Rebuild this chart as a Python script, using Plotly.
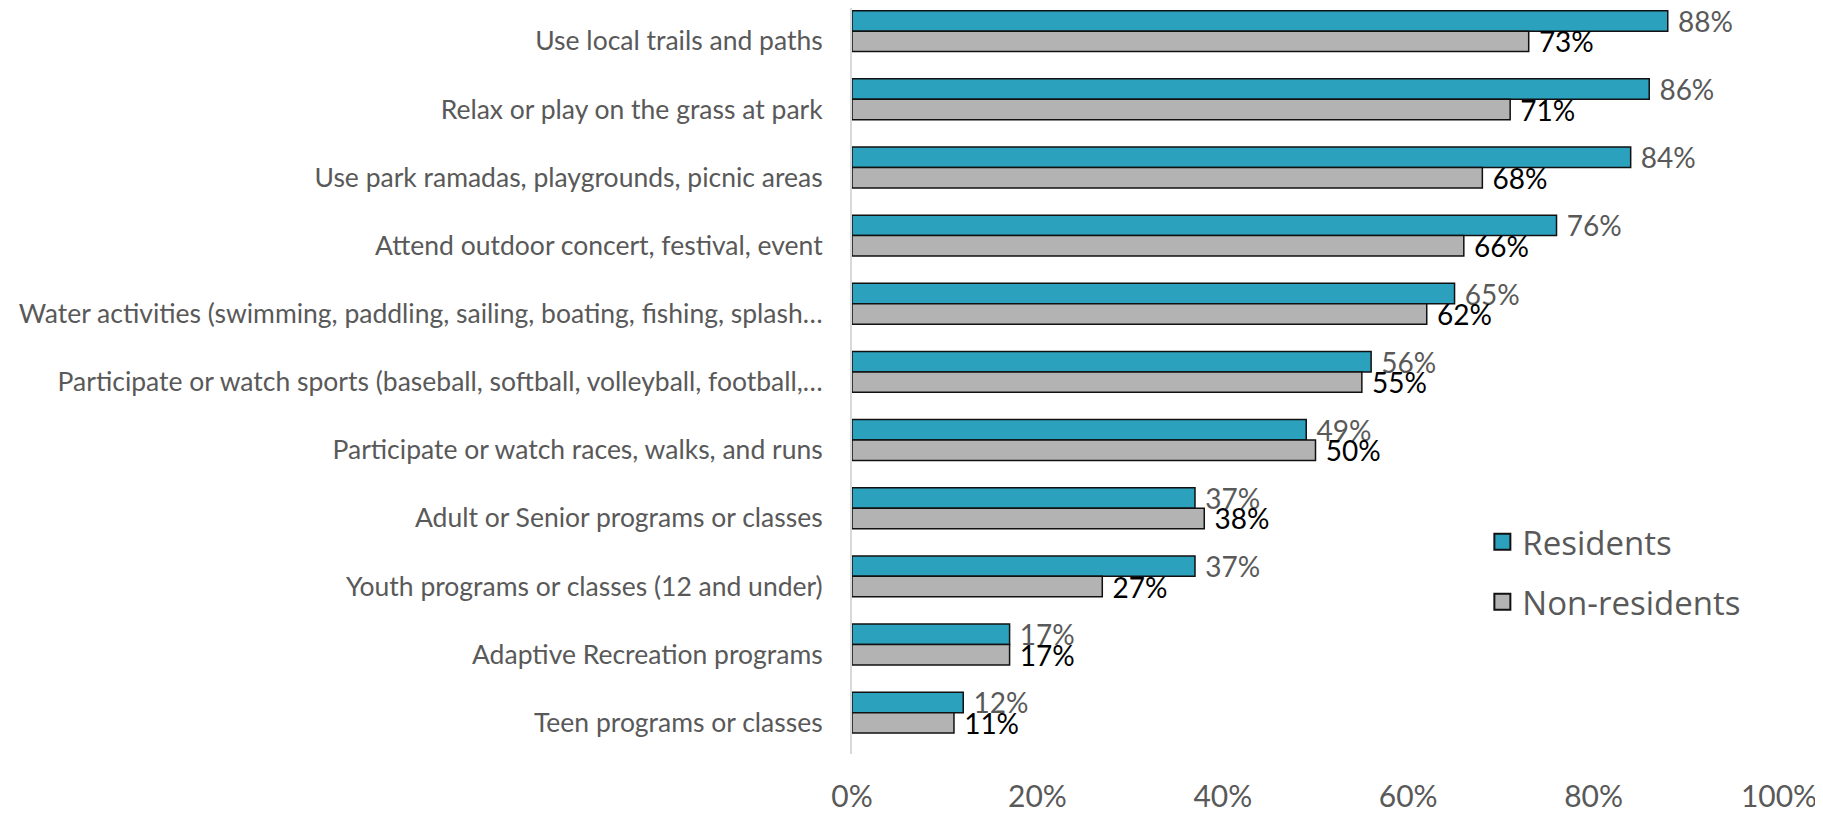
import plotly.graph_objects as go

activities = [
    "Use local trails and paths",
    "Relax or play on the grass at park",
    "Use park ramadas, playgrounds, picnic areas",
    "Attend outdoor concert, festival, event",
    "Water activities (swimming, paddling, sailing, boating, fishing, splash\u2026",
    "Participate or watch sports (baseball, softball, volleyball, football,\u2026",
    "Participate or watch races, walks, and runs",
    "Adult or Senior programs or classes",
    "Youth programs or classes (12 and under)",
    "Adaptive Recreation programs",
    "Teen programs or classes",
]
residents = [0.88, 0.86, 0.84, 0.76, 0.65, 0.56, 0.49, 0.37, 0.37, 0.17, 0.12]
non_residents = [0.73, 0.71, 0.68, 0.66, 0.62, 0.55, 0.50, 0.38, 0.27, 0.17, 0.11]
x_ticks = [0, 0.2, 0.4, 0.6, 0.8, 1.0]

FONT = "Lato"
TEAL = "#2ca1be"
GREY = "#b3b3b3"
PAD = "\u00a0"

fig = go.Figure()
fig.add_trace(go.Bar(
    name="Residents", y=activities, x=residents, orientation="h",
    marker=dict(color=TEAL, line=dict(color="#111111", width=1.5)),
    text=[PAD + f"{v:.0%}" for v in residents], textposition="outside",
    textfont=dict(color="#595959", size=28, family=FONT),
    constraintext="none", cliponaxis=False, showlegend=False,
))
fig.add_trace(go.Bar(
    name="Non-residents", y=activities, x=non_residents, orientation="h",
    marker=dict(color=GREY, line=dict(color="#111111", width=1.5)),
    text=[PAD + f"{v:.0%}" for v in non_residents], textposition="outside",
    textfont=dict(color="#000000", size=28, family=FONT),
    constraintext="none", cliponaxis=False, showlegend=False,
))

# legend entries with square swatches
for i, (name, color) in enumerate([("Residents", TEAL), ("Non-residents", GREY)]):
    fig.add_trace(go.Scatter(
        x=[None], y=[None], mode="markers", name=name, legendgroup=str(i),
        marker=dict(symbol="square", size=20, color=color,
                    line=dict(color="#111111", width=2)),
    ))

fig.update_layout(
    width=1823, height=817,
    margin=dict(l=844, r=52, t=0, b=71),
    barmode="group", bargap=0.4, bargroupgap=0,
    paper_bgcolor="white", plot_bgcolor="white",
    font=dict(family=FONT, color="#595959"),
    legend=dict(
        x=0.68, y=0.322, xanchor="left", yanchor="top",
        font=dict(size=33, color="#595959", family="Open Sans"),
        bgcolor="rgba(0,0,0,0)", traceorder="grouped", tracegroupgap=14,
        itemwidth=30,
    ),
)
fig.update_xaxes(
    range=[0, 1], tickvals=x_ticks, tickformat=".0%",
    showgrid=False, zeroline=False, showline=False,
    tickfont=dict(size=30, color="#595959", family=FONT),
    ticklabelstandoff=22,
)
fig.update_yaxes(
    range=[10.607, -0.34], showgrid=False, zeroline=False,
    showline=True, linecolor="#d9d9d9", linewidth=2,
    tickfont=dict(size=26.5, color="#595959", family=FONT),
    ticklabelstandoff=22, ticklabelshift=-10, automargin=False,
)

fig.write_html("out.html")
